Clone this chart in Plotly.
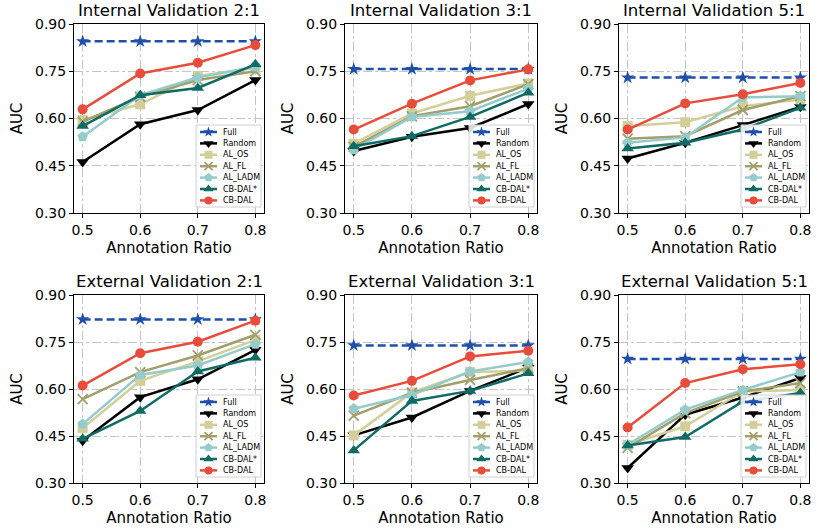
import plotly.graph_objects as go

ratios = [0.5, 0.6, 0.7, 0.8]
titles = ["Internal Validation 2:1", "Internal Validation 3:1", "Internal Validation 5:1",
          "External Validation 2:1", "External Validation 3:1", "External Validation 5:1"]
series_names = ["Full", "Random", "AL_OS", "AL_FL", "AL_LADM", "CB-DAL*", "CB-DAL"]

full_vals = [0.845, 0.757, 0.730, 0.822, 0.739, 0.696]
random_vals = [[0.462, 0.582, 0.627, 0.722], [0.497, 0.542, 0.570, 0.646], [0.473, 0.523, 0.579, 0.637],
               [0.435, 0.574, 0.631, 0.725], [0.452, 0.509, 0.594, 0.668], [0.348, 0.518, 0.573, 0.635]]
al_os_vals = [[0.595, 0.645, 0.735, 0.760], [0.520, 0.616, 0.672, 0.711], [0.576, 0.588, 0.639, 0.660],
              [0.475, 0.626, 0.688, 0.757], [0.452, 0.589, 0.654, 0.658], [0.422, 0.481, 0.592, 0.597]]
al_fl_vals = [[0.590, 0.669, 0.722, 0.750], [0.510, 0.607, 0.639, 0.709], [0.536, 0.544, 0.627, 0.671],
              [0.568, 0.654, 0.707, 0.773], [0.515, 0.588, 0.629, 0.666], [0.412, 0.523, 0.592, 0.619]]
al_ladm_vals = [[0.542, 0.674, 0.730, 0.764], [0.501, 0.605, 0.623, 0.695], [0.523, 0.540, 0.667, 0.671],
                [0.488, 0.645, 0.675, 0.743], [0.537, 0.581, 0.656, 0.686], [0.422, 0.534, 0.597, 0.654]]
cbdal_star_vals = [[0.576, 0.674, 0.697, 0.772], [0.512, 0.544, 0.605, 0.682], [0.505, 0.523, 0.565, 0.634],
                   [0.441, 0.530, 0.656, 0.700], [0.404, 0.562, 0.594, 0.650], [0.420, 0.447, 0.560, 0.587]]
cbdal_vals = [[0.629, 0.743, 0.777, 0.833], [0.565, 0.647, 0.721, 0.756], [0.565, 0.648, 0.677, 0.713],
              [0.611, 0.714, 0.751, 0.818], [0.579, 0.626, 0.704, 0.722], [0.477, 0.619, 0.663, 0.679]]

y_ticks = [0.30, 0.45, 0.60, 0.75, 0.90]
y_tick_labels = ["0.30", "0.45", "0.60", "0.75", "0.90"]
x_tick_labels = ["0.5", "0.6", "0.7", "0.8"]

styles = {
    "Full": dict(color="#1f4fa8", symbol="star", size=10, lsize=8, dash="8px,4px"),
    "Random": dict(color="#000000", symbol="triangle-down", size=11, lsize=9, dash="solid"),
    "AL_OS": dict(color="#d3cf9b", symbol="square", size=10, lsize=8, dash="solid"),
    "AL_FL": dict(color="#a19f6c", symbol="x-thin", size=10, lsize=8, dash="solid"),
    "AL_LADM": dict(color="#95cbcb", symbol="pentagon", size=11, lsize=9, dash="solid"),
    "CB-DAL*": dict(color="#0f6b64", symbol="triangle-up", size=11, lsize=9, dash="solid"),
    "CB-DAL": dict(color="#e84c3a", symbol="circle", size=10, lsize=8, dash="solid"),
}

W, H = 816, 531
col_px = [(74, 264), (345, 537), (619, 809)]
row_px = [(24, 213), (295, 483)]
FONT = "DejaVu Sans"

fig = go.Figure()


def marker_for(s, size):
    m = dict(symbol=s["symbol"], size=size, color=s["color"])
    if s["symbol"] == "x-thin":
        m["line"] = dict(color=s["color"], width=1.8)
    return m


for i in range(6):
    r, c = divmod(i, 3)
    ax = "" if i == 0 else str(i + 1)
    xa, ya = "x" + ax, "y" + ax
    ox, oy = "x" + str(i + 7), "y" + str(i + 7)
    data = {
        "Full": [full_vals[i]] * 4,
        "Random": random_vals[i],
        "AL_OS": al_os_vals[i],
        "AL_FL": al_fl_vals[i],
        "AL_LADM": al_ladm_vals[i],
        "CB-DAL*": cbdal_star_vals[i],
        "CB-DAL": cbdal_vals[i],
    }
    for name in series_names:
        s = styles[name]
        fig.add_trace(go.Scatter(
            x=ratios, y=data[name], name=name, mode="lines+markers",
            line=dict(color=s["color"], width=2.5, dash=s["dash"]),
            marker=marker_for(s, s["size"]), xaxis=xa, yaxis=ya, showlegend=False,
        ))
    x0, x1 = col_px[c]
    y0, y1 = row_px[r]
    axis_common = dict(showline=True, linecolor="black", linewidth=1, mirror=True,
                       ticks="outside", ticklen=4, tickcolor="black", automargin=False,
                       showgrid=True, gridcolor="#c4c4c4", griddash="dashdot", gridwidth=1,
                       tickfont=dict(family=FONT, size=14, color="black"), zeroline=False)
    fig.layout["xaxis" + ax] = dict(
        domain=[x0 / W, x1 / W], anchor=ya, range=[0.485, 0.815],
        tickvals=ratios, ticktext=x_tick_labels,
        title=dict(text="Annotation Ratio", font=dict(family=FONT, size=15, color="black"), standoff=5),
        **axis_common)
    fig.layout["yaxis" + ax] = dict(
        domain=[1 - y1 / H, 1 - y0 / H], anchor=xa, range=[0.30, 0.90],
        tickvals=y_ticks, ticktext=y_tick_labels,
        title=dict(text="AUC", font=dict(family=FONT, size=15, color="black"), standoff=8),
        **axis_common)
    # overlay axes in pixel units for the legend box
    fig.layout["xaxis" + str(i + 7)] = dict(overlaying=xa, range=[x0, x1], visible=False,
                                             fixedrange=True, automargin=False)
    fig.layout["yaxis" + str(i + 7)] = dict(overlaying=ya, range=[y1, y0], visible=False,
                                             fixedrange=True, automargin=False)
    bl, br, bt, bb = x1 - 68, x1 - 3, y1 - 88, y1 - 6
    fig.add_trace(go.Scatter(
        x=[bl, br, br, bl, bl], y=[bt, bt, bb, bb, bt], mode="lines", fill="toself",
        fillcolor="rgba(255,255,255,0.85)", line=dict(color="#d0d0d0", width=1),
        xaxis=ox, yaxis=oy, showlegend=False, hoverinfo="skip"))
    for k, name in enumerate(series_names):
        s = styles[name]
        yy = bt + 7 + k * 11.4
        fig.add_trace(go.Scatter(
            x=[bl + 4, bl + 12.5, bl + 21], y=[yy, yy, yy], mode="lines",
            line=dict(color=s["color"], width=2.5), xaxis=ox, yaxis=oy,
            showlegend=False, hoverinfo="skip"))
        fig.add_trace(go.Scatter(
            x=[bl + 12.5], y=[yy], mode="markers", marker=marker_for(s, s["lsize"]),
            xaxis=ox, yaxis=oy, showlegend=False, hoverinfo="skip"))
        fig.add_annotation(text=name, x=bl + 25, y=yy, xref=ox, yref=oy, xanchor="left",
                           yanchor="middle", showarrow=False,
                           font=dict(family=FONT, size=8, color="black"))
    fig.add_annotation(text=titles[i], x=(x0 + x1) / 2 / W, y=1 - (y0 - 2) / H,
                       xref="paper", yref="paper", xanchor="center", yanchor="bottom",
                       showarrow=False, font=dict(family=FONT, size=16.5, color="black"))

fig.update_layout(width=W, height=H, margin=dict(l=0, r=0, t=0, b=0),
                  paper_bgcolor="white", plot_bgcolor="white", showlegend=False)
fig.write_html("out.html", config={"displayModeBar": False},
               post_script="document.body.style.margin='0';document.body.style.overflow='hidden';")
